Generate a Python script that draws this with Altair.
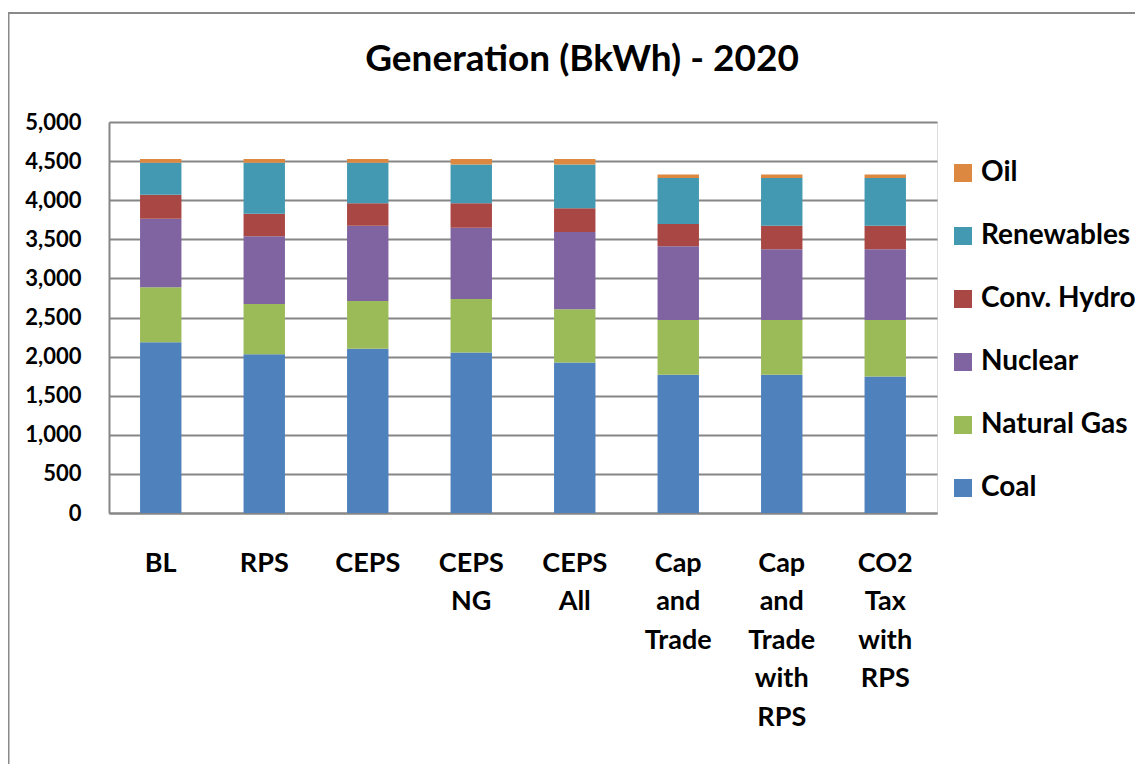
import altair as alt
import pandas as pd

scenarios = ["BL", "RPS", "CEPS", "CEPS NG", "CEPS All", "Cap and Trade",
             "Cap and Trade with RPS", "CO2 Tax with RPS"]
sources = ["Coal", "Natural Gas", "Nuclear", "Conv. Hydro", "Renewables", "Oil"]
colors = ["#4F81BD", "#9BBB59", "#8064A2", "#A94744", "#4399B1", "#DD8840"]

coal        = [2184, 2031, 2099, 2052, 1924, 1767, 1767, 1745]
natural_gas = [703, 642, 613, 685, 682, 702, 702, 724]
nuclear     = [876, 865, 962, 911, 987, 941, 903, 903]
conv_hydro  = [307, 289, 286, 312, 303, 285, 302, 302]
renewables  = [408, 651, 518, 498, 562, 588, 609, 609]
oil         = [48, 48, 48, 68, 68, 47, 47, 47]

y_ticks = [0, 500, 1000, 1500, 2000, 2500, 3000, 3500, 4000, 4500, 5000]

series = [coal, natural_gas, nuclear, conv_hydro, renewables, oil]
rows = []
for si, (src, vals) in enumerate(zip(sources, series)):
    for sc, v in zip(scenarios, vals):
        rows.append({"scenario": sc, "source": src, "value": v, "order": si})
df = pd.DataFrame(rows)

FONT = "Lato"
W, H = 828, 391
PAD_L, PAD_T = 101, 114
TOTAL_W, TOTAL_H = 1127, 756

bars = alt.Chart(df).mark_bar().encode(
    x=alt.X("scenario:N", sort=scenarios,
            scale=alt.Scale(paddingInner=0.6, paddingOuter=0.3),
            axis=alt.Axis(title=None, labelAngle=0, labelFont=FONT, labelFontSize=27,
                          labelFontWeight="bold", labelColor="#000000",
                          labelExpr="split(datum.label, ' ')", labelLineHeight=38.5,
                          labelPadding=37, labelBaseline="top",
                          ticks=False, domainColor="#868686", domainWidth=2,
                          grid=False)),
    y=alt.Y("value:Q", stack="zero",
            scale=alt.Scale(domain=[0, 5000], nice=False),
            axis=alt.Axis(title=None, values=y_ticks, format=",.0f", labelFont=FONT,
                          labelFontSize=22, labelFontWeight="bold", labelColor="#000000",
                          labelPadding=28, ticks=False, domainColor="#868686",
                          domainWidth=2, grid=True, gridColor="#868686", gridWidth=2)),
    color=alt.Color("source:N",
                    scale=alt.Scale(domain=sources[::-1], range=colors[::-1]),
                    legend=alt.Legend(title=None, orient="none", legendX=840, legendY=37,
                                      symbolType="square", symbolSize=324,
                                      symbolStrokeWidth=0, labelFont=FONT,
                                      labelFontSize=28, labelFontWeight="bold",
                                      labelColor="#000000", rowPadding=35,
                                      labelOffset=4)),
    order=alt.Order("order:Q", sort="ascending"),
)

frame = alt.Chart(pd.DataFrame({"a": [0]})).mark_rect(
    fill=None, stroke="#8a8a8a", strokeWidth=2
).encode(
    x=alt.value(-PAD_L + 0.5), x2=alt.value(TOTAL_W),
    y=alt.value(-PAD_T + 5), y2=alt.value(TOTAL_H),
)

chart = alt.layer(frame, bars).properties(
    width=W, height=H,
    padding={"left": PAD_L, "top": PAD_T, "right": TOTAL_W - W - PAD_L,
             "bottom": TOTAL_H - H - PAD_T},
    autosize="none",
    title=alt.TitleParams("Generation (BkWh) - 2020", font=FONT, fontSize=37,
                          fontWeight="bold", color="#000000", anchor="middle",
                          frame="group", dx=59, offset=0, dy=67),
).configure_view(stroke=None).configure(background="#ffffff")

chart.save("out.html", embed_options={"renderer": "svg", "actions": False})
